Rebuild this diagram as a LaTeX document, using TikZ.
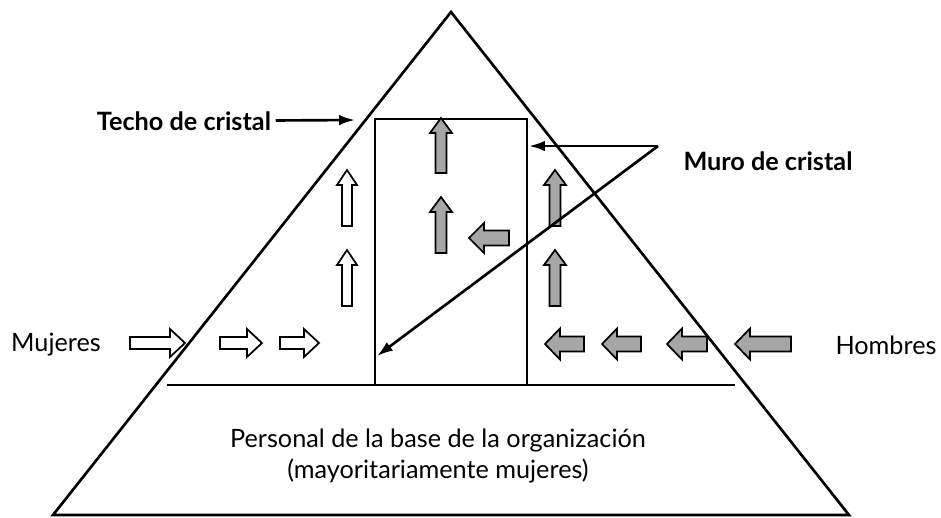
\documentclass[tikz,border=0pt]{standalone}
\usepackage{fontspec}
\setmainfont{Lato}
\usetikzlibrary{arrows.meta}

\definecolor{arrowgray}{RGB}{166,166,166}

\tikzset{
  hollowarrow/.style={draw=black, fill=white, line width=1.3pt, line join=miter},
  grayarrow/.style={draw=black, fill=arrowgray, line width=1.3pt, line join=miter},
  label/.style={font=\fontsize{19}{23}\selectfont},
  boldlabel/.style={font=\fontsize{19}{23}\selectfont\bfseries},
  pointer/.style={line width=2pt, -{Latex[length=12pt,width=8pt]}}
}

% block arrow: style, tail point, angle, length, head half width, body half width
\newcommand{\blockarrow}[6]{%
  \draw [#1, shift={(#2)}, rotate=#3] (0,-#6) -- (#4-1.5,-#6) -- (#4-1.5,-#5)
    -- (#4,0) -- (#4-1.5,#5) -- (#4-1.5,#6) -- (0,#6) -- cycle;}

\begin{document}
\begin{tikzpicture}[scale=0.2646]
    \useasboundingbox (0,0) rectangle (94.1,-51.7);
    % women coming in from the left
    \blockarrow{hollowarrow}{13.0,-34.3}{0}{5.5}{1.4}{0.6}
    \blockarrow{hollowarrow}{22.0,-34.3}{0}{4.2}{1.4}{0.6}
    \blockarrow{hollowarrow}{28.0,-34.3}{0}{3.9}{1.4}{0.6}
    \blockarrow{hollowarrow}{34.7,-30.6}{90}{5.6}{1.0}{0.5}
    \blockarrow{hollowarrow}{34.7,-22.6}{90}{5.6}{1.0}{0.5}
    % men coming in from the right
    \blockarrow{grayarrow}{79.1,-34.4}{180}{5.6}{1.55}{0.75}
    \blockarrow{grayarrow}{70.7,-34.4}{180}{4.0}{1.55}{0.75}
    \blockarrow{grayarrow}{64.1,-34.4}{180}{3.9}{1.55}{0.75}
    \blockarrow{grayarrow}{58.4,-34.4}{180}{3.9}{1.55}{0.75}
    \blockarrow{grayarrow}{55.5,-30.6}{90}{5.6}{1.1}{0.55}
    \blockarrow{grayarrow}{55.5,-22.6}{90}{5.6}{1.1}{0.55}
    \blockarrow{grayarrow}{50.9,-23.8}{180}{4.0}{1.5}{0.75}
    \blockarrow{grayarrow}{44.1,-25.3}{90}{5.6}{1.1}{0.55}
    \blockarrow{grayarrow}{44.1,-17.3}{90}{5.5}{1.1}{0.55}
    % pyramid, base line and wall
    \draw [black, line width=2pt, line join=miter] (45.1,-1.2) -- (84.9,-51.5) -- (5.3,-51.5) -- cycle;
    \draw [black, line width=1.6pt] (16.7,-38.5) -- (73.5,-38.5);
    \draw [black, line width=1.6pt] (37.5,-38.5) -- (37.5,-11.9) -- (52.7,-11.9) -- (52.7,-38.5);
    % labels
    \node [label] (mujeres) at (5.6,-34.5) {Mujeres};
    \node [label] (hombres) at (88.6,-34.5) {Hombres};
    \node [boldlabel] (techo) at (18.4,-12.1) {Techo de cristal};
    \node [boldlabel] (muro) at (76.8,-16.1) {Muro de cristal};
    \node [label, align=center] (base) at (43.8,-45.6) {Personal de la base de la organización\\(mayoritariamente mujeres)};
    % pointers
    \coordinate (techotip) at (35.5,-12.0);
    \coordinate (murovertex) at (65.8,-14.6);
    \coordinate (murotipa) at (52.9,-14.6);
    \coordinate (murotipb) at (37.7,-35.6);
    \draw [pointer] (techo) -- (techotip);
    \draw [pointer] (murovertex) -- (murotipa);
    \draw [pointer] (murovertex) -- (murotipb);
\end{tikzpicture}
\end{document}
